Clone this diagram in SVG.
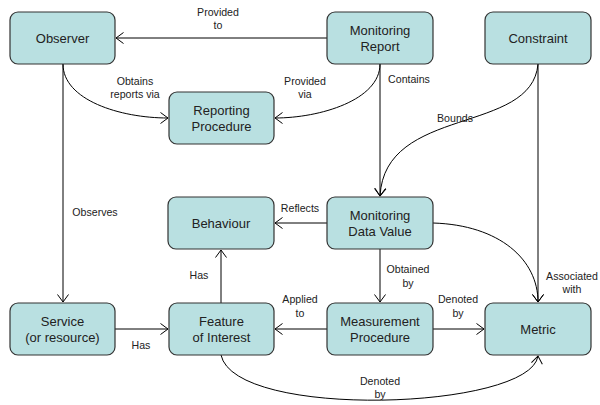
<svg xmlns="http://www.w3.org/2000/svg" width="600" height="405" viewBox="0 0 600 405">
<defs>
<marker id="arr" markerUnits="userSpaceOnUse" markerWidth="12" markerHeight="14" refX="9" refY="7" orient="auto">
<path d="M1.5,1.5 L9,7 L1.5,12.5" fill="none" stroke="#000" stroke-width="1"/>
</marker>
<style>
.n rect{fill:#b9e0e1;stroke:#333;stroke-width:1.2}
.n text{font-family:"Liberation Sans",Arial,sans-serif;font-size:13px;fill:#222;text-anchor:middle}
.c path{fill:none;stroke:#000;stroke-width:1;marker-end:url(#arr)}
.c text{font-family:"Liberation Sans",Arial,sans-serif;font-size:10.6px;fill:#222;text-anchor:middle}
</style>
</defs>
<rect width="600" height="405" fill="#fff"/>
<g class="c" id="connectors">
<path d="M327,38 L116,38"/>
<text x="218" y="16">Provided</text><text x="218" y="29">to</text>
<path d="M63,64 C63,100 120,118 168,118"/>
<text x="135" y="85">Obtains</text><text x="135" y="98">reports via</text>
<path d="M380,64 C380,100 320,118 275,118"/>
<text x="305" y="85">Provided</text><text x="305" y="98">via</text>
<path d="M380,64 L380,196"/>
<text x="409" y="83">Contains</text>
<path d="M538,64 C532,135 385,105 380,196"/>
<text x="455" y="122">Bounds</text>
<path d="M538,64 L538,302"/>
<text x="572" y="280">Associated</text><text x="572" y="293">with</text>
<path d="M433,223 C500,225 538,260 538,302"/>
<path d="M327,223 L275,223"/>
<text x="300" y="212">Reflects</text>
<path d="M380,249 L380,302"/>
<text x="408" y="273">Obtained</text><text x="408" y="287">by</text>
<path d="M63,64 L63,302"/>
<text x="95" y="216">Observes</text>
<path d="M115,329 L168,329"/>
<text x="141" y="349">Has</text>
<path d="M221,303 L221,250"/>
<text x="199" y="279">Has</text>
<path d="M327,329 L275,329"/>
<text x="300" y="303">Applied</text><text x="300" y="317">to</text>
<path d="M433,329 L484,329"/>
<text x="458" y="303">Denoted</text><text x="458" y="317">by</text>
<path d="M221,355 C235,420 530,410 538,356"/>
<text x="380" y="385">Denoted</text><text x="380" y="398">by</text>
</g>
<g class="n" id="observer"><rect x="10" y="12" width="105" height="52" rx="8"/><text x="62.5" y="42.5">Observer</text></g>
<g class="n" id="monitoring-report"><rect x="327" y="12" width="106" height="52" rx="8"/><text x="380" y="34.5">Monitoring</text><text x="380" y="50.5">Report</text></g>
<g class="n" id="constraint"><rect x="485" y="12" width="106" height="52" rx="8"/><text x="538" y="42.5">Constraint</text></g>
<g class="n" id="reporting-procedure"><rect x="169" y="92" width="105" height="52" rx="8"/><text x="221.5" y="114.5">Reporting</text><text x="221.5" y="130.5">Procedure</text></g>
<g class="n" id="behaviour"><rect x="168" y="197" width="106" height="52" rx="8"/><text x="221" y="227.5">Behaviour</text></g>
<g class="n" id="monitoring-data-value"><rect x="327" y="197" width="106" height="52" rx="8"/><text x="380" y="219.5">Monitoring</text><text x="380" y="235.5">Data Value</text></g>
<g class="n" id="service"><rect x="10" y="303" width="105" height="52" rx="8"/><text x="62.5" y="325.5">Service</text><text x="62.5" y="341.5">(or resource)</text></g>
<g class="n" id="feature-of-interest"><rect x="169" y="303" width="105" height="52" rx="8"/><text x="221.5" y="325.5">Feature</text><text x="221.5" y="341.5">of Interest</text></g>
<g class="n" id="measurement-procedure"><rect x="327" y="303" width="106" height="52" rx="8"/><text x="380" y="325.5">Measurement</text><text x="380" y="341.5">Procedure</text></g>
<g class="n" id="metric"><rect x="485" y="303" width="106" height="52" rx="8"/><text x="538" y="333.5">Metric</text></g>
</svg>
